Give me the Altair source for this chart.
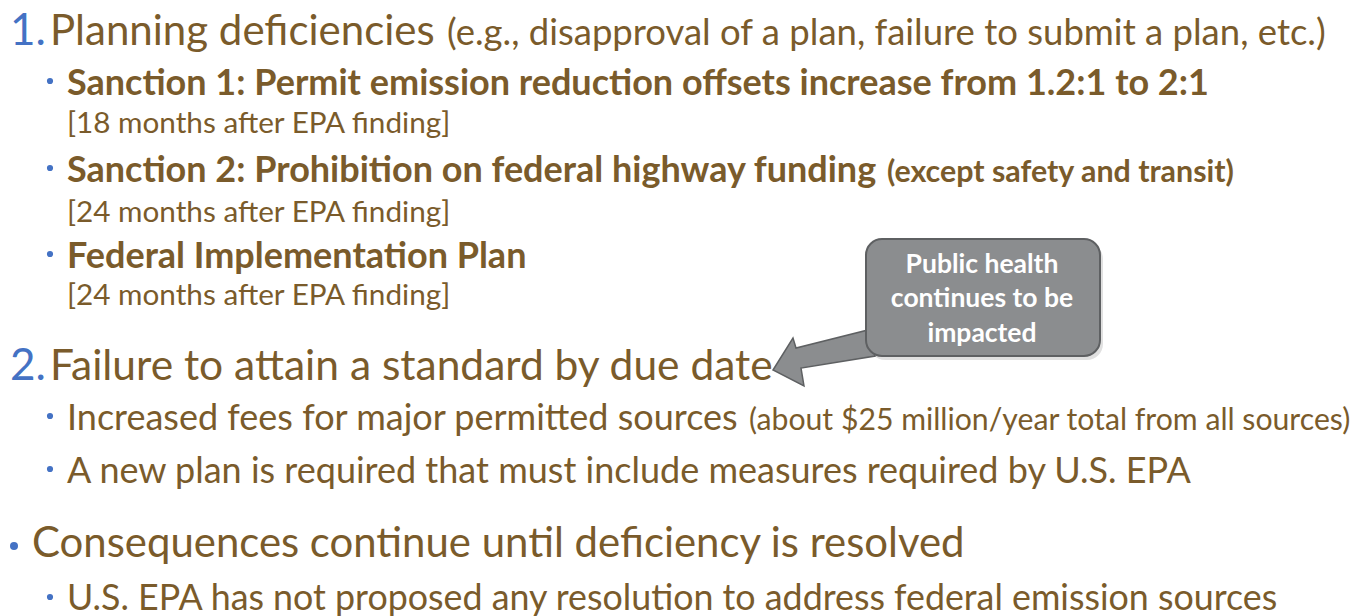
import altair as alt
import pandas as pd

# ---------------- content ----------------
heading_numbers = ["1.", "2."]
headings = ["Planning deficiencies", "Failure to attain a standard by due date"]
heading_notes = ["(e.g., disapproval of a plan, failure to submit a plan, etc.)"]
sanctions = [
    "Sanction 1: Permit emission reduction offsets increase from 1.2:1 to 2:1",
    "Sanction 2: Prohibition on federal highway funding",
    "Federal Implementation Plan",
]
sanction_note = "(except safety and transit)"
sanction_timing = [
    "[18 months after EPA finding]",
    "[24 months after EPA finding]",
    "[24 months after EPA finding]",
]
failure_items = [
    "Increased fees for major permitted sources",
    "A new plan is required that must include measures required by U.S. EPA",
]
failure_note = "(about $25 million/year total from all sources)"
consequence = "Consequences continue until deficiency is resolved"
consequence_items = ["U.S. EPA has not proposed any resolution to address federal emission sources"]
callout_lines = ["Public health", "continues to be", "impacted"]

# ---------------- styling / layout ----------------
W, H, M = 1363, 616, 8
FONT = "Lato"
BROWN = "#7a5b2b"
BLUE = "#4472c4"
GRAY = "#8b8d8f"
EDGE = "#5e6062"

reg_rows = []   # regular weight text
bold_rows = []  # bold text
dots = []

def add(rows, text, x, y, size, color=BROWN):
    rows.append(dict(text=text, x=x, y=y, size=size, color=color))

# Section 1
add(reg_rows, heading_numbers[0], 10, 45, 44, BLUE)
add(reg_rows, headings[0], 50, 45, 42)
add(reg_rows, heading_notes[0], 447, 45, 36.5)
sanc_base = [95, 182, 268]
time_base = [133, 222, 305]
for i, s in enumerate(sanctions):
    dots.append(dict(x=50, y=sanc_base[i] - 14, size=38))
    add(bold_rows, s, 67, sanc_base[i], 36)
    add(reg_rows, sanction_timing[i], 67, time_base[i], 29.7)
add(bold_rows, sanction_note, 887, 182, 30.4)

# Section 2
add(reg_rows, heading_numbers[1], 10, 380, 44, BLUE)
add(reg_rows, headings[1], 50, 380, 42.5)
fy = [430, 483]
for i, s in enumerate(failure_items):
    dots.append(dict(x=50, y=fy[i] - 14, size=38))
    add(reg_rows, s, 67, fy[i], 36)
add(reg_rows, failure_note, 749, 430, 30.2)

# Consequences
dots.append(dict(x=14, y=546, size=64))
add(reg_rows, consequence, 32, 557, 41.9)
dots.append(dict(x=50, y=597, size=38))
add(reg_rows, consequence_items[0], 67, 610, 35.8)

# callout text
call_rows = []
for i, yb in enumerate([273, 307, 342]):
    add(call_rows, callout_lines[i], 982, yb, 26.5, "white")

reg_df = pd.DataFrame(reg_rows)
bold_df = pd.DataFrame(bold_rows)
call_df = pd.DataFrame(call_rows)
dot_df = pd.DataFrame(dots)

xs = alt.Scale(domain=[M, W - M], range=[0, W - 2 * M])
ys = alt.Scale(domain=[M, H - M], range=[0, H - 2 * M])

X = lambda f="x": alt.X(f, type="quantitative", scale=xs, axis=None)
Y = lambda f="y": alt.Y(f, type="quantitative", scale=ys, axis=None)

def text_layer(df, weight, align="left"):
    return alt.Chart(df).mark_text(
        font=FONT, fontWeight=weight, align=align, baseline="alphabetic"
    ).encode(
        x=X(), y=Y(), text="text:N",
        size=alt.Size("size:Q", scale=None, legend=None),
        color=alt.Color("color:N", scale=None, legend=None),
    )

# callout geometry
box_df = pd.DataFrame([dict(x=866, x2=1100, y=239, y2=356)])
shadow_df = pd.DataFrame([dict(x=869, x2=1103, y=243, y2=360)])
arrow_df = pd.DataFrame([dict(x=824, y=358)])
ARROW = ("M-0.927,0.218L-0.564,-0.364L-0.509,-0.182L0.8,-0.509"
         "L0.927,-0.036L-0.418,0.182L-0.364,0.509Z")

shadow = alt.Chart(shadow_df).mark_rect(cornerRadius=16, color="#000000", opacity=0.12).encode(
    x=X(), x2="x2", y=Y(), y2="y2")
arrow = alt.Chart(arrow_df).mark_point(
    shape=ARROW, filled=True, fill=GRAY, stroke=EDGE, strokeWidth=1.5, size=110 * 110, opacity=1
).encode(x=X(), y=Y())
box = alt.Chart(box_df).mark_rect(cornerRadius=16, fill=GRAY, stroke=EDGE, strokeWidth=2).encode(
    x=X(), x2="x2", y=Y(), y2="y2")
dot_layer = alt.Chart(dot_df).mark_circle(color=BLUE, opacity=1).encode(
    x=X(), y=Y(), size=alt.Size("size:Q", scale=None, legend=None))

chart = alt.layer(
    text_layer(reg_df, "normal"),
    text_layer(bold_df, "bold"),
    dot_layer,
    shadow,
    arrow,
    box,
    text_layer(call_df, "bold", align="center"),
).properties(
    width=W - 2 * M, height=H - 2 * M,
    autosize=alt.AutoSizeParams(type="none"),
    padding={"left": 0, "top": 0, "right": 0, "bottom": 8},
).configure_view(stroke=None)

chart.save("out.html", embed_options={"renderer": "svg", "actions": False})
